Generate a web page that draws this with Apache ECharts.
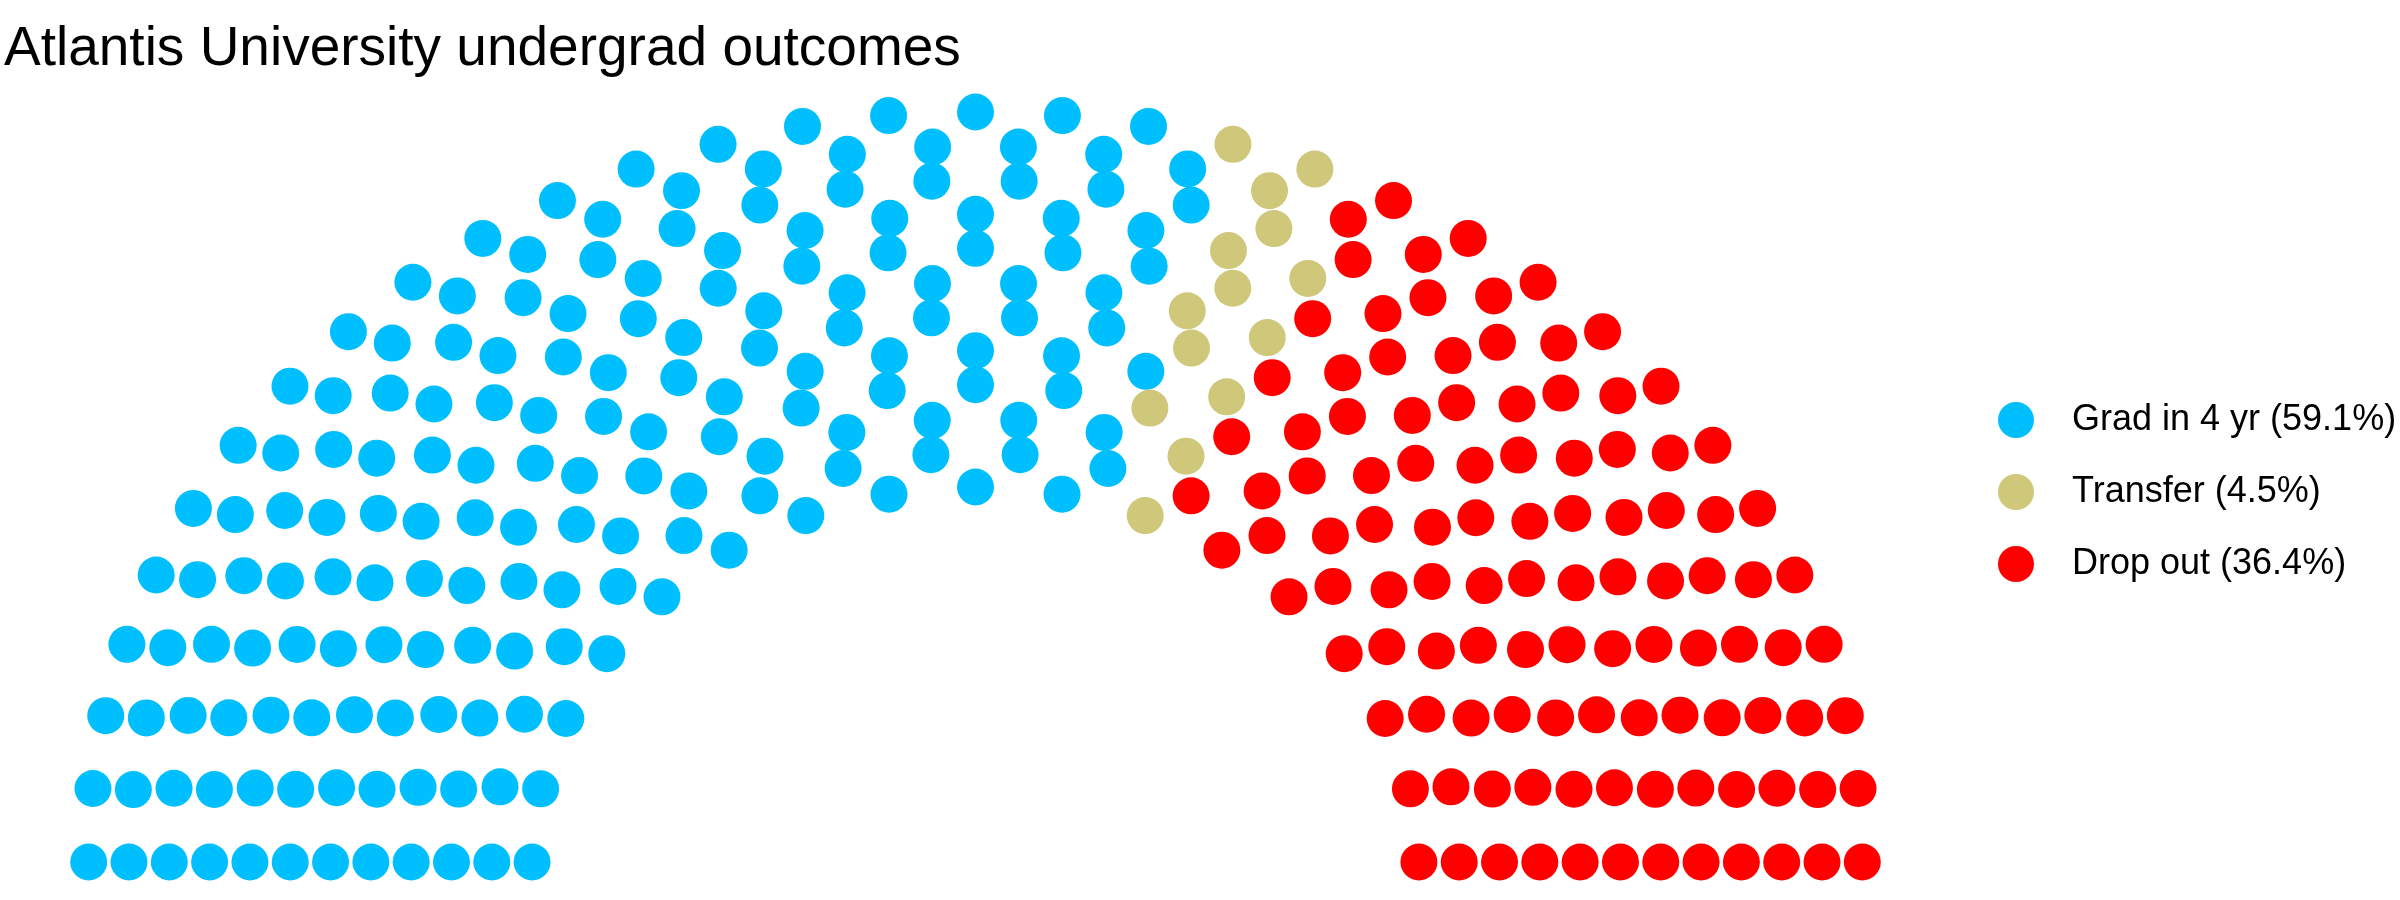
<!DOCTYPE html>
<html>
<head>
<meta charset="utf-8">
<script src="https://cdn.jsdelivr.net/npm/echarts@6/dist/echarts.min.js"></script>
<style>
html, body { margin: 0; padding: 0; background: #ffffff; }
#chart { width: 2400px; height: 900px; }
</style>
</head>
<body>
<div id="chart"></div>
<script>
// ---- data ----
const titleText = 'Atlantis University undergrad outcomes';
const parties = ['Grad in 4 yr', 'Transfer', 'Drop out'];
const seats = [177, 14, 109];
const shares = ['59.1%', '4.5%', '36.4%'];
const colors = ['#00BFFF', '#CFC77A', '#FF0000'];
const parlRows = 12;

// ---- semicircle parliament layout (ggparliament style) ----
function roundHalfEven(v) {
  const f = Math.floor(v);
  const d = v - f;
  if (Math.abs(d - 0.5) < 1e-9) return (f % 2 === 0) ? f : f + 1;
  return Math.round(v);
}
function semicircle(rows, total) {
  const radii = [];
  for (let i = 0; i < rows; i++) radii.push(1 + i / (rows - 1));
  const pts = [];
  let left = total;
  for (let i = 0; i < rows; i++) {
    let s = 0;
    for (let j = i; j < rows; j++) s += radii[j];
    const n = roundHalfEven(left * radii[i] / s);
    const by = Math.PI / (n - 1);
    for (let k = 0; k < n; k++) {
      const th = k === 0 ? 0 : (k === n - 1 ? Math.PI : k * by);
      pts.push({ x: radii[i] * Math.cos(th), y: radii[i] * Math.sin(th), row: i + 1, theta: th });
    }
    left -= n;
  }
  pts.sort((a, b) => (b.theta - a.theta) || (b.row - a.row));
  return pts;
}
const totalSeats = seats.reduce((a, b) => a + b, 0);
const layout = semicircle(parlRows, totalSeats);
const names = parties.map((p, i) => p + ' (' + shares[i] + ')');
const seriesData = parties.map(() => []);
let idx = 0;
seats.forEach((n, pi) => {
  for (let k = 0; k < n; k++) {
    const p = layout[idx++];
    seriesData[pi].push([p.x, p.y]);
  }
});

const chart = echarts.init(document.getElementById('chart'), null, { renderer: 'canvas' });
chart.setOption({
  animation: false,
  backgroundColor: '#ffffff',
  title: {
    text: titleText,
    left: -1,
    top: 17,
    textStyle: { fontFamily: 'Liberation Sans', fontSize: 55, fontWeight: 'normal', color: '#000000' }
  },
  legend: {
    orient: 'vertical',
    left: 1993,
    top: 397,
    itemWidth: 36,
    itemHeight: 36,
    itemGap: 36,
    icon: 'circle',
    data: names,
    textStyle: { fontFamily: 'Liberation Sans', fontSize: 36, lineHeight: 36, color: '#000000', padding: [0, 0, 0, 33] }
  },
  grid: { left: 0, top: 74.5, width: 1951, height: 825, containLabel: false },
  xAxis: { type: 'value', min: -2.2, max: 2.2, show: false },
  yAxis: { type: 'value', min: -0.1, max: 2.1, show: false },
  series: names.map((nm, i) => ({
    name: nm,
    type: 'scatter',
    symbol: 'circle',
    symbolSize: 37,
    itemStyle: { color: colors[i], opacity: 1 },
    data: seriesData[i]
  }))
});
</script>
</body>
</html>
